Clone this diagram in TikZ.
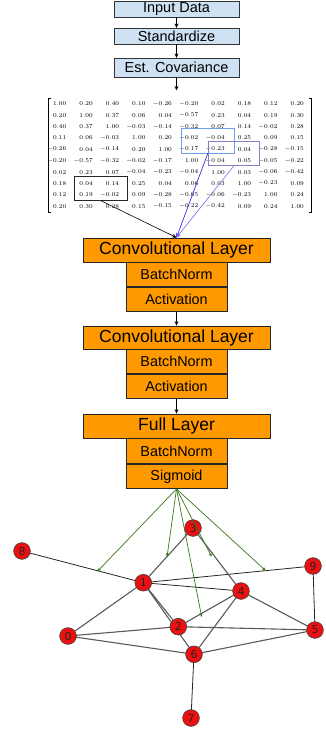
\documentclass[tikz,border=0pt]{standalone}
\usepackage{fontspec}
\newfontfamily\arialf{Liberation Sans}
\newfontfamily\dvs{DejaVu Sans}
\usetikzlibrary{arrows.meta}
\definecolor{boxblue}{HTML}{CFE2F3}
\definecolor{layorange}{HTML}{FF9900}
\definecolor{arrgreen}{HTML}{38761D}
\definecolor{selblue}{HTML}{6D9EEB}
\definecolor{selpurple}{HTML}{8E7CC3}
\definecolor{lineblue}{HTML}{1A1AF0}
\definecolor{linepurple}{HTML}{7B68EE}
\definecolor{nodered}{HTML}{EE1010}
\begin{document}
\begin{tikzpicture}[x=1pt,y=-1pt,
  topbox/.style={draw=black!80, fill=boxblue, line width=0.8pt, minimum width=125pt, inner sep=0pt, font=\arialf\fontsize{14.5}{15}\selectfont},
  laybox/.style={draw=black!85, fill=layorange, line width=0.8pt, minimum width=187pt, minimum height=24pt, inner sep=0pt, font=\arialf\fontsize{17.5}{18}\selectfont},
  subbox/.style={draw=black!85, fill=layorange, line width=0.8pt, minimum width=101pt, minimum height=24pt, inner sep=0pt, font=\arialf\fontsize{14.4}{15}\selectfont},
  flow/.style={-{Stealth[length=4.5pt,width=4pt]}, line width=0.6pt},
  mnum/.style={anchor=east, inner sep=0pt, font=\fontsize{5.8}{6}\selectfont},
  selbox/.style={line width=0.8pt, inner sep=0pt, anchor=north west},
  gnode/.style={circle, draw=black!75, fill=nodered, line width=0.6pt, minimum size=16.7pt, inner sep=0pt, font=\dvs\fontsize{11}{11}\selectfont, text=black!85},
  gedge/.style={black!65, line width=1.1pt},
  dedge/.style={black!85, line width=0.8pt},
  garrow/.style={arrgreen, line width=0.7pt, -{Stealth[length=4pt,width=3.2pt]}},
]
\useasboundingbox (0,0) rectangle (326,730);

% top pipeline
\node[topbox, minimum height=15.5pt] (inp) at (176.5,9.2) {Input Data};
\node[topbox, minimum height=15.7pt] (std) at (176.5,36.2) {Standardize};
\node[topbox, minimum height=19pt] (cov) at (176.5,67.8) {Est. Covariance};
\coordinate (mtop) at (176.5,90.5);
\draw[flow] (inp.south) -- (std.north);
\draw[flow] (std.south) -- (cov.north);
\draw[flow] (cov.south) -- (mtop);

% matrix
\draw[line width=0.5pt] (50.5,98) -- (48,98) -- (48,212) -- (50.5,212);
\draw[line width=0.5pt] (308.5,98) -- (311,98) -- (311,212) -- (308.5,212);
\foreach \rowvals [count=\r] in {
{1.00,0.20,0.40,0.10,-0.26,-0.20,0.02,0.18,0.12,0.20},
{0.20,1.00,0.37,0.06,0.04,-0.57,0.23,0.04,0.19,0.30},
{0.40,0.37,1.00,-0.03,-0.14,-0.32,0.07,0.14,-0.02,0.28},
{0.11,0.06,-0.03,1.00,0.20,-0.02,-0.04,0.25,0.09,0.15},
{-0.26,0.04,-0.14,0.20,1.00,-0.17,-0.23,0.04,-0.28,-0.15},
{-0.20,-0.57,-0.32,-0.02,-0.17,1.00,-0.04,0.05,-0.05,-0.22},
{0.02,0.23,0.07,-0.04,-0.23,-0.04,1.00,0.03,-0.06,-0.42},
{0.18,0.04,0.14,0.25,0.04,0.06,0.03,1.00,-0.23,0.09},
{0.12,0.19,-0.02,0.09,-0.28,-0.05,-0.06,-0.23,1.00,0.24},
{0.20,0.30,0.28,0.15,-0.15,-0.22,-0.42,0.09,0.24,1.00}}{
  \foreach \v [count=\c] in \rowvals {
    \node[mnum] (m-\r-\c) at ({66.5+26.4*(\c-1)},{104+11.35*(\r-1)}) {$\v$};
  }
}
\node[selbox, draw=black!85, minimum width=52.7pt, minimum height=24pt] (selk) at (74.3,176) {};
\node[selbox, draw=selblue, minimum width=53.3pt, minimum height=24.4pt] (selb) at (180.7,128.3) {};
\node[selbox, draw=selpurple, minimum width=51.6pt, minimum height=24pt] (selp) at (207.7,141) {};

% layers
\node[laybox] (conv1) at (176.5,250) {Convolutional Layer};
\node[subbox, anchor=north, minimum height=23.5pt] (bn1) at (conv1.south) {BatchNorm};
\node[subbox, anchor=north] (act1) at (bn1.south) {Activation};
\node[laybox, minimum height=23pt] (conv2) at (176.5,337.5) {Convolutional Layer};
\node[subbox, anchor=north] (bn2) at (conv2.south) {BatchNorm};
\node[subbox, anchor=north] (act2) at (bn2.south) {Activation};
\node[laybox] (full) at (176.5,426) {Full Layer};
\node[subbox, anchor=north, minimum height=25pt] (bn3) at (full.south) {BatchNorm};
\node[subbox, anchor=north] (sig) at (bn3.south) {Sigmoid};

\draw[flow, black] (selk.south) -- (conv1.north);
\draw[flow, lineblue] (selb.south) -- (conv1.north);
\draw[flow, linepurple] (selp.south) -- (conv1.north);
\draw[flow] (act1.south) -- (conv2.north);
\draw[flow] (act2.south) -- (full.north);

% graph
\coordinate (p0) at (68,636);
\coordinate (p1) at (143.3,582.7);
\coordinate (p2) at (178.3,626.7);
\coordinate (p3) at (193,528);
\coordinate (p4) at (241,591);
\coordinate (p5) at (315,630);
\coordinate (p6) at (194,654.3);
\coordinate (p7) at (191,718);
\coordinate (p8) at (22,551);
\coordinate (p9) at (313,566);
\draw[dedge] (p8) -- (p1);
\draw[dedge] (p1) -- (p9);
\draw[dedge] (p1) -- (p4);
\draw[dedge] (p9) -- (p5);
\draw[dedge] (p6) -- (p7);
\draw[gedge] (p3) -- (p1);
\draw[gedge] (p3) -- (p4);
\draw[gedge] (p1) -- (p0);
\draw[gedge] (p1) -- (p2);
\draw[gedge] (p1) -- (p6);
\draw[gedge] (p4) -- (p2);
\draw[gedge] (p4) -- (p6);
\draw[gedge] (p4) -- (p5);
\draw[gedge] (p0) -- (p2);
\draw[gedge] (p0) -- (p6);
\draw[gedge] (p2) -- (p5);
\draw[gedge] (p6) -- (p5);
\foreach \i in {0,...,9} {
  \node[gnode] (n\i) at (p\i) {\i};
}

% arrows from sigmoid
\coordinate (g1) at (97.3,571.5);
\coordinate (g2) at (167,557);
\coordinate (g3) at (201.7,617);
\coordinate (g4) at (211.7,556.7);
\coordinate (g5) at (265.7,570.7);
\foreach \g in {g1,g2,g3,g4,g5} {
  \draw[garrow] (sig.south) -- (\g);
}
\end{tikzpicture}
\end{document}
